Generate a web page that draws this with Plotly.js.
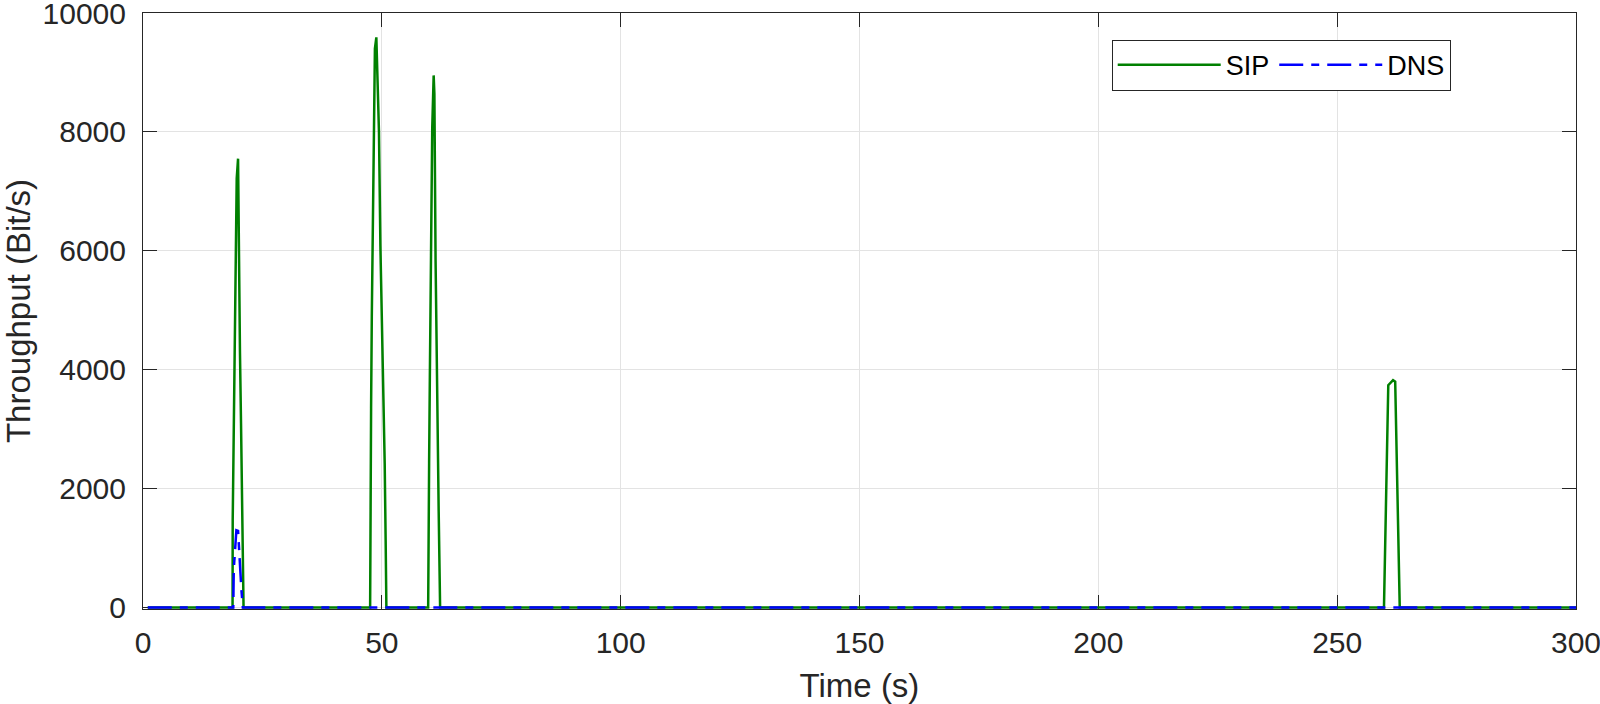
<!DOCTYPE html>
<html>
<head>
<meta charset="utf-8">
<script src="https://cdn.plot.ly/plotly-3.0.1.min.js"></script>
<style>html,body{margin:0;padding:0;background:#fff;}#chart{width:1600px;height:704px;}</style>
</head>
<body>
<div id="chart"></div>
<script>
// SIP throughput (Bit/s) over time (s)
const sipTime = [1, 18.75, 18.78, 18.92, 19.05, 19.2, 19.35, 19.62, 19.9, 20.1, 20.3, 20.52, 20.73, 21.0, 21.05,
  47.55, 47.6, 47.75, 47.9, 48.1, 48.3, 48.55, 48.85, 49.4, 49.7, 49.95, 50.2, 50.4, 50.6, 50.8, 50.95,
  59.7, 59.75, 59.9, 60.05, 60.2, 60.4, 60.55, 60.85, 61.0, 61.25, 61.45, 61.65, 61.9, 62.2,
  259.8, 260.7, 261.1, 261.7, 262.15, 263.1, 300];
const sipValue = [0, 0, 1470, 2500, 3700, 4850, 6200, 7220, 7550, 5630, 4290, 3100, 1420, 300, 0,
  0, 1840, 3350, 4890, 6360, 7870, 9400, 9590, 8000, 6080, 5050, 4150, 3440, 2420, 1130, 0,
  0, 1040, 2440, 3870, 5230, 6660, 8060, 8950, 8640, 5840, 4260, 3010, 1620, 0,
  0, 3740, 3780, 3825, 3800, 0, 0];
// DNS throughput (Bit/s) over time (s)
const dnsTime = [1, 18.9, 19.0, 19.3, 19.55, 19.9, 20.1, 20.35, 20.6, 20.9, 300];
const dnsValue = [0, 0, 640, 940, 1300, 1290, 950, 760, 300, 0, 0];

const xTicks = [0, 50, 100, 150, 200, 250, 300];
const yTicks = [0, 2000, 4000, 6000, 8000, 10000];

const axisColor = '#262626';
const gridColor = '#e3e3e3';
const fam = 'Liberation Sans, Arial, sans-serif';
const tickFont = {family: fam, size: 30, color: axisColor};

const traces = [
  {x: sipTime, y: sipValue, type: 'scatter', mode: 'lines', name: 'SIP', cliponaxis: false,
   line: {color: '#008000', width: 2.5}},
  {x: dnsTime, y: dnsValue, type: 'scatter', mode: 'lines', name: 'DNS', cliponaxis: false,
   line: {color: '#0000ff', width: 2.5, dash: '24px,8px,8px,8px'}}
];

const layout = {
  width: 1600, height: 704,
  margin: {l: 143, r: 24, t: 13, b: 95, pad: 0},
  paper_bgcolor: '#ffffff', plot_bgcolor: '#ffffff',
  showlegend: true,
  legend: {
    orientation: 'h', x: 0.676, y: 0.955, xanchor: 'left', yanchor: 'top',
    bordercolor: axisColor, borderwidth: 1, bgcolor: '#ffffff',
    font: {family: fam, size: 27, color: '#000000'},
    itemwidth: 103
  },
  xaxis: {
    range: [0, 300], tickvals: xTicks, ticktext: xTicks.map(String),
    showgrid: true, gridcolor: gridColor, gridwidth: 1, zeroline: false,
    showline: true, linecolor: axisColor, linewidth: 1, mirror: 'ticks',
    ticks: 'inside', ticklen: 14, tickcolor: axisColor, tickwidth: 1,
    tickfont: tickFont, ticklabelstandoff: 7, ticklabeloverflow: 'allow',
    layer: 'below traces',
    title: {text: 'Time (s)', font: {family: fam, size: 33, color: axisColor}, standoff: 16}
  },
  yaxis: {
    range: [-25, 10000], tickvals: yTicks, ticktext: yTicks.map(String),
    showgrid: true, gridcolor: gridColor, gridwidth: 1, zeroline: false,
    showline: true, linecolor: axisColor, linewidth: 1, mirror: 'ticks',
    ticks: 'inside', ticklen: 14, tickcolor: axisColor, tickwidth: 1,
    tickfont: tickFont, ticklabelstandoff: 10, ticklabeloverflow: 'allow',
    layer: 'below traces',
    title: {text: 'Throughput (Bit/s)', font: {family: fam, size: 33, color: axisColor}, standoff: 4}
  }
};

Plotly.newPlot('chart', traces, layout, {displayModeBar: false, staticPlot: true});
</script>
</body>
</html>
